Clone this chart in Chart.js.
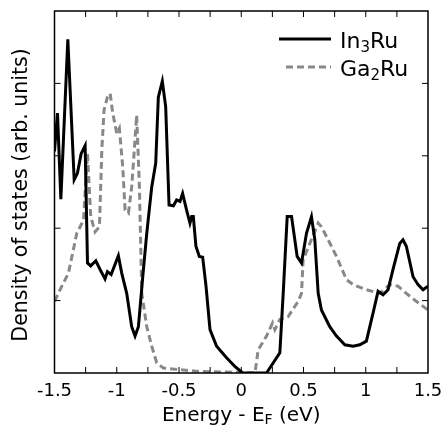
<!DOCTYPE html>
<html>
<head>
<meta charset="utf-8">
<script src="https://cdn.jsdelivr.net/npm/chart.js@4"></script>
<style>
  html, body { margin: 0; padding: 0; background: #fff; }
  #wrap { width: 443px; height: 431px; position: relative; }
</style>
</head>
<body>
<div id="wrap"><canvas id="dos"></canvas></div>
<script>
// In3Ru density of states (solid)
const energyIn3Ru = [-1.5, -1.476, -1.449, -1.393, -1.342, -1.316, -1.286, -1.254, -1.235, -1.209,
  -1.168, -1.134, -1.094, -1.075, -1.045, -0.987, -0.96, -0.92, -0.88, -0.853,
  -0.826, -0.791, -0.759, -0.719, -0.687, -0.666, -0.634, -0.607, -0.58, -0.545,
  -0.519, -0.492, -0.471, -0.439, -0.412, -0.398, -0.385, -0.364, -0.337, -0.31,
  -0.283, -0.251, -0.198, -0.118, -0.051, 0.011, 0.203, 0.31, 0.337, 0.369,
  0.404, 0.449, 0.484, 0.524, 0.564, 0.591, 0.618, 0.644, 0.711, 0.765,
  0.832, 0.898, 0.952, 1.005, 1.059, 1.099, 1.139, 1.179, 1.219, 1.273,
  1.299, 1.326, 1.38, 1.42, 1.46, 1.5];
const dosIn3Ru = [3.06, 3.59, 2.40, 4.61, 2.67, 2.76, 3.03, 3.14, 1.52, 1.48,
  1.55, 1.43, 1.30, 1.40, 1.36, 1.62, 1.38, 1.10, 0.64, 0.51,
  0.64, 1.33, 1.93, 2.57, 2.90, 3.81, 4.03, 3.68, 2.32, 2.31,
  2.39, 2.37, 2.48, 2.25, 2.07, 2.16, 2.16, 1.75, 1.61, 1.60,
  1.20, 0.60, 0.37, 0.21, 0.09, 0.0, 0.0, 0.28, 1.10, 2.16,
  2.16, 1.61, 1.52, 1.93, 2.16, 1.84, 1.10, 0.87, 0.64, 0.51,
  0.39, 0.37, 0.39, 0.44, 0.83, 1.13, 1.08, 1.15, 1.43, 1.79,
  1.84, 1.75, 1.33, 1.22, 1.15, 1.20];

// Ga2Ru density of states (dashed)
const energyGa2Ru = [-1.5, -1.441, -1.388, -1.321, -1.267, -1.235, -1.209, -1.174, -1.139, -1.12,
  -1.102, -1.075, -1.053, -1.032, -1.0, -0.979, -0.952, -0.933, -0.906, -0.88,
  -0.861, -0.84, -0.818, -0.799, -0.759, -0.719, -0.679, -0.626, -0.519, -0.332,
  -0.064, 0.11, 0.136, 0.203, 0.251, 0.27, 0.31, 0.377, 0.457, 0.484,
  0.497, 0.551, 0.618, 0.644, 0.698, 0.765, 0.845, 0.898, 1.005, 1.112,
  1.193, 1.259, 1.326, 1.406, 1.5];
const dosGa2Ru = [0.99, 1.20, 1.38, 1.93, 2.11, 3.03, 2.16, 1.95, 2.02, 3.08,
  3.63, 3.81, 3.86, 3.59, 3.31, 3.38, 2.85, 2.25, 2.21, 2.57,
  3.03, 3.56, 2.57, 1.10, 0.64, 0.37, 0.14, 0.07, 0.05, 0.02,
  0.01, 0.0, 0.32, 0.51, 0.69, 0.60, 0.74, 0.78, 0.99, 1.10,
  1.56, 1.79, 2.07, 2.02, 1.84, 1.61, 1.29, 1.22, 1.15, 1.10,
  1.22, 1.20, 1.10, 0.99, 0.87];

const xTicks = [-1.5, -1, -0.5, 0, 0.5, 1, 1.5];
const seriesNames = ["In", "3", "Ru", "Ga", "2", "Ru"];

const FONT = "'DejaVu Sans', Verdana, sans-serif";

const toPoints = (xs, ys) => xs.map((x, i) => ({ x: x, y: ys[i] }));

// frame, inside ticks, axis titles and legend
const decorations = {
  id: "decorations",
  afterDraw(chart) {
    const ctx = chart.ctx;
    const area = chart.chartArea;
    const xs = chart.scales.x;
    const ys = chart.scales.y;
    ctx.save();
    ctx.strokeStyle = "#000";
    ctx.lineWidth = 1.5;
    ctx.strokeRect(area.left, area.top, area.right - area.left, area.bottom - area.top);

    ctx.lineWidth = 1;
    const tl = 6;
    xs.ticks.forEach(t => {
      const px = xs.getPixelForValue(t.value);
      if (px <= area.left + 1 || px >= area.right - 1) return;
      ctx.beginPath();
      ctx.moveTo(px, area.bottom); ctx.lineTo(px, area.bottom - tl);
      ctx.moveTo(px, area.top); ctx.lineTo(px, area.top + tl);
      ctx.stroke();
    });
    ys.ticks.forEach(t => {
      const py = ys.getPixelForValue(t.value);
      if (py <= area.top + 1 || py >= area.bottom - 1) return;
      ctx.beginPath();
      ctx.moveTo(area.left, py); ctx.lineTo(area.left + tl, py);
      ctx.moveTo(area.right, py); ctx.lineTo(area.right - tl, py);
      ctx.stroke();
    });

    ctx.fillStyle = "#000";
    ctx.textBaseline = "alphabetic";

    // x title with subscript
    const big = "20px " + FONT, small = "14px " + FONT;
    const parts = [["Energy - E", big, 0], ["F", small, 3], [" (eV)", big, 0]];
    let w = 0;
    parts.forEach(p => { ctx.font = p[1]; w += ctx.measureText(p[0]).width; });
    let cx = (area.left + area.right) / 2 - w / 2;
    parts.forEach(p => {
      ctx.font = p[1];
      ctx.textAlign = "left";
      ctx.fillText(p[0], cx, 421 + p[2]);
      cx += ctx.measureText(p[0]).width;
    });

    // y title
    ctx.save();
    ctx.translate(27, 195);
    ctx.rotate(-Math.PI / 2);
    ctx.font = "20.5px " + FONT;
    ctx.textAlign = "center";
    ctx.fillText("Density of states (arb. units)", 0, 0);
    ctx.restore();

    // legend
    const legend = [
      { name: seriesNames.slice(0, 3), y: 39, x0: 279, color: "#000", dash: [] },
      { name: seriesNames.slice(3, 6), y: 67, x0: 286, color: "#888", dash: [7, 4] }
    ];
    legend.forEach(l => {
      ctx.strokeStyle = l.color;
      ctx.lineWidth = 3;
      ctx.setLineDash(l.dash);
      ctx.beginPath();
      ctx.moveTo(l.x0, l.y); ctx.lineTo(331, l.y);
      ctx.stroke();
      ctx.setLineDash([]);
      let tx = 340;
      const fonts = [["22px " + FONT, 0], ["15px " + FONT, 4], ["22px " + FONT, 0]];
      l.name.forEach((s, i) => {
        ctx.font = fonts[i][0];
        ctx.textAlign = "left";
        ctx.fillText(s, tx, l.y + 9 + fonts[i][1]);
        tx += ctx.measureText(s).width;
      });
    });
    ctx.restore();
  }
};

new Chart(document.getElementById("dos"), {
  type: "line",
  data: {
    datasets: [
      {
        label: "In3Ru",
        data: toPoints(energyIn3Ru, dosIn3Ru),
        borderColor: "#000",
        borderWidth: 3,
        pointRadius: 0,
        tension: 0,
        fill: false
      },
      {
        label: "Ga2Ru",
        data: toPoints(energyGa2Ru, dosGa2Ru),
        borderColor: "#888",
        borderWidth: 3,
        borderDash: [7, 4],
        pointRadius: 0,
        tension: 0,
        fill: false
      }
    ]
  },
  options: {
    responsive: true,
    maintainAspectRatio: false,
    animation: false,
    layout: { padding: { top: 11, right: 15, left: 0, bottom: 0 } },
    plugins: { legend: { display: false }, tooltip: { enabled: false } },
    scales: {
      x: {
        type: "linear",
        min: -1.5,
        max: 1.5,
        grid: { display: false, drawTicks: false },
        border: { display: false },
        afterFit: s => { s.height = 58; s.paddingLeft = 0; s.paddingRight = 0; },
        ticks: {
          stepSize: 0.25,
          autoSkip: false,
          maxRotation: 0,
          padding: 8,
          color: "#000",
          font: { family: FONT, size: 18 },
          callback: v => xTicks.some(t => Math.abs(t - v) < 1e-6) ? String(Math.round(v * 10) / 10) : ""
        }
      },
      y: {
        type: "linear",
        min: 0,
        max: 5,
        grid: { display: false, drawTicks: false },
        border: { display: false },
        afterFit: s => { s.width = 54.5; },
        ticks: { stepSize: 1, display: false }
      }
    }
  },
  plugins: [decorations]
});
</script>
</body>
</html>
